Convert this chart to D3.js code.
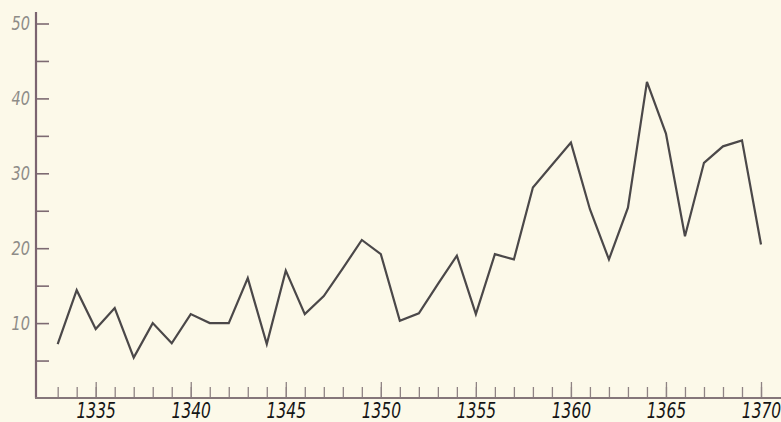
<!DOCTYPE html>
<html>
<head>
<meta charset="utf-8">
<script src="https://cdn.jsdelivr.net/npm/d3@7"></script>
<style>
  body { margin: 0; background: #fcf9e9; }
  svg { display: block; }
</style>
</head>
<body>
<div id="chart"></div>
<script>
// yearly values
var years = d3.range(1333, 1371);
var values = [7.2, 14.4, 9.2, 12.0, 5.4, 10.0, 7.3, 11.2, 10.0, 10.0,
              16.0, 7.2, 17.0, 11.2, 13.6, 17.3, 21.1, 19.2, 10.3, 11.3,
              15.2, 19.0, 11.2, 19.2, 18.5, 28.1, 31.1, 34.1, 25.2, 18.5,
              25.4, 42.2, 35.3, 21.6, 31.4, 33.6, 34.4, 20.5];
var yTicks = d3.range(5, 55, 5);
var xMajor = d3.range(1335, 1375, 5);

var width = 781, height = 422;

var svg = d3.select("#chart").append("svg")
    .attr("width", width)
    .attr("height", height);

var x = d3.scaleLinear().domain([1335, 1370]).range([95.7, 761]);
var y = d3.scaleLinear().domain([0, 50]).range([398, 23.5]);

var labelFont = "'DejaVu Sans Condensed', 'Liberation Sans Narrow', sans-serif";

// y axis: ticks point inward, labels only every 10
var yAxis = svg.append("g")
    .attr("transform", "translate(36,0)")
    .call(d3.axisLeft(y)
        .tickValues(yTicks)
        .tickSizeInner(-13)
        .tickSizeOuter(0)
        .tickPadding(7)
        .tickFormat(function(d) { return d % 10 === 0 ? d : ""; }));
yAxis.select(".domain").remove();
yAxis.selectAll("line").attr("stroke", "#7d6a72").attr("stroke-width", 1.6);
yAxis.selectAll("text")
    .attr("fill", "#8e8c88")
    .attr("transform", "scale(0.85,1)")
    .style("font-family", labelFont)
    .style("font-style", "italic")
    .style("font-weight", "300")
    .style("font-size", "19px");

svg.append("line")
    .attr("x1", 36).attr("x2", 36)
    .attr("y1", 12).attr("y2", y(0))
    .attr("stroke", "#7b6470")
    .attr("stroke-width", 2.2);

// x axis: minor ticks each year, taller ticks every 5 years
var xMinor = svg.append("g")
    .attr("transform", "translate(0," + y(0) + ")")
    .call(d3.axisBottom(x)
        .tickValues(years)
        .tickSizeInner(-11)
        .tickSizeOuter(0)
        .tickFormat(""));
xMinor.select(".domain").remove();
xMinor.selectAll("line").attr("stroke", "#8f8384").attr("stroke-width", 1.3);

var xAxis = svg.append("g")
    .attr("transform", "translate(0," + y(0) + ")")
    .call(d3.axisBottom(x)
        .tickValues(xMajor)
        .tickSizeInner(-16)
        .tickSizeOuter(0)
        .tickPadding(5)
        .tickFormat(d3.format("d")));
xAxis.select(".domain").remove();
xAxis.selectAll("line").attr("stroke", "#8f8384").attr("stroke-width", 1.3);
xAxis.selectAll("text")
    .attr("fill", "#151515")
    .attr("transform", "scale(0.82,1)")
    .style("font-family", labelFont)
    .style("font-style", "italic")
    .style("font-size", "21px");

svg.append("line")
    .attr("x1", 35).attr("x2", width)
    .attr("y1", y(0)).attr("y2", y(0))
    .attr("stroke", "#85777a")
    .attr("stroke-width", 2);

// the series
var line = d3.line()
    .x(function(d, i) { return x(years[i]); })
    .y(function(d) { return y(d); });

svg.append("path")
    .datum(values)
    .attr("fill", "none")
    .attr("stroke", "#4b4849")
    .attr("stroke-width", 2.2)
    .attr("stroke-linejoin", "miter")
    .attr("d", line);
</script>
</body>
</html>
